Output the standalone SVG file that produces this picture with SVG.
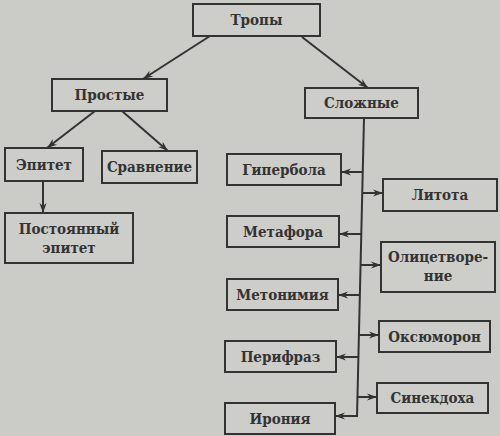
<svg xmlns="http://www.w3.org/2000/svg" width="500" height="436" viewBox="0 0 500 436">
<defs>
<marker id="ah" viewBox="0 0 10 8" refX="10" refY="4" markerWidth="11" markerHeight="8" markerUnits="userSpaceOnUse" orient="auto">
<path d="M0,0.5 L10,4 L0,7.5 L3,4 Z" fill="#333"/>
</marker>
<style>
.bg{fill:#cbcbc8}
.box{fill:#cdcdca;stroke:#333;stroke-width:2}
.t{font-family:"DejaVu Serif Condensed","DejaVu Serif","Liberation Serif",serif;font-weight:bold;font-size:15px;fill:#333;text-anchor:middle}
.ln{stroke:#333;stroke-width:2;fill:none}
.ar{stroke:#333;stroke-width:2;fill:none;marker-end:url(#ah)}
</style>
</defs>
<rect class="bg" x="0" y="0" width="500" height="436"/>
<g id="connectors">
<line class="ar" x1="210" y1="36" x2="143" y2="79"/>
<line class="ar" x1="302" y1="37" x2="368" y2="88"/>
<line class="ar" x1="95" y1="111" x2="47" y2="148"/>
<line class="ar" x1="122" y1="111" x2="168" y2="151"/>
<line class="ar" x1="43" y1="181" x2="43" y2="213"/>
<line class="ln" x1="364" y1="118" x2="357" y2="417"/>
<line class="ar" x1="363" y1="172" x2="341" y2="172"/>
<line class="ar" x1="362" y1="193" x2="383" y2="193"/>
<line class="ar" x1="362" y1="234" x2="339" y2="234"/>
<line class="ar" x1="361" y1="265" x2="381" y2="265"/>
<line class="ar" x1="360" y1="295" x2="338" y2="295"/>
<line class="ar" x1="359" y1="335" x2="379" y2="335"/>
<line class="ar" x1="358" y1="357" x2="336" y2="357"/>
<line class="ar" x1="358" y1="397" x2="377" y2="397"/>
<line class="ar" x1="358" y1="416" x2="335" y2="416"/>
</g>
<g id="tropy"><rect class="box" x="193" y="4" width="127" height="32"/><text class="t" x="256.5" y="25">Тропы</text></g>
<g id="prostye"><rect class="box" x="52" y="79" width="115" height="32"/><text class="t" x="109.5" y="100">Простые</text></g>
<g id="slozhnye"><rect class="box" x="305" y="88" width="113" height="30"/><text class="t" x="361.5" y="108">Сложные</text></g>
<g id="epitet"><rect class="box" x="5" y="148" width="78" height="33"/><text class="t" x="44" y="170">Эпитет</text></g>
<g id="sravnenie"><rect class="box" x="102" y="151" width="95" height="32"/><text class="t" x="149.5" y="172">Сравнение</text></g>
<g id="postoyanny"><rect class="box" x="5" y="213" width="128" height="50"/><text class="t" x="69" y="234">Постоянный</text><text class="t" x="69" y="253">эпитет</text></g>
<g id="giperbola"><rect class="box" x="227" y="154" width="114" height="31"/><text class="t" x="284" y="175">Гипербола</text></g>
<g id="litota"><rect class="box" x="383" y="179" width="114" height="32"/><text class="t" x="440" y="200">Литота</text></g>
<g id="metafora"><rect class="box" x="227" y="216" width="112" height="31"/><text class="t" x="283" y="237">Метафора</text></g>
<g id="olitsetvorenie"><rect class="box" x="381" y="242" width="114" height="50"/><text class="t" x="438" y="262">Олицетворе-</text><text class="t" x="438" y="281">ние</text></g>
<g id="metonimiya"><rect class="box" x="227" y="279" width="111" height="31"/><text class="t" x="282.5" y="300">Метонимия</text></g>
<g id="oksyumoron"><rect class="box" x="379" y="321" width="111" height="31"/><text class="t" x="434.5" y="342">Оксюморон</text></g>
<g id="perifraz"><rect class="box" x="225" y="341" width="111" height="31"/><text class="t" x="280.5" y="362">Перифраз</text></g>
<g id="sinekdokha"><rect class="box" x="377" y="383" width="111" height="30"/><text class="t" x="432.5" y="403">Синекдоха</text></g>
<g id="ironiya"><rect class="box" x="225" y="403" width="110" height="31"/><text class="t" x="280" y="424">Ирония</text></g>
</svg>
